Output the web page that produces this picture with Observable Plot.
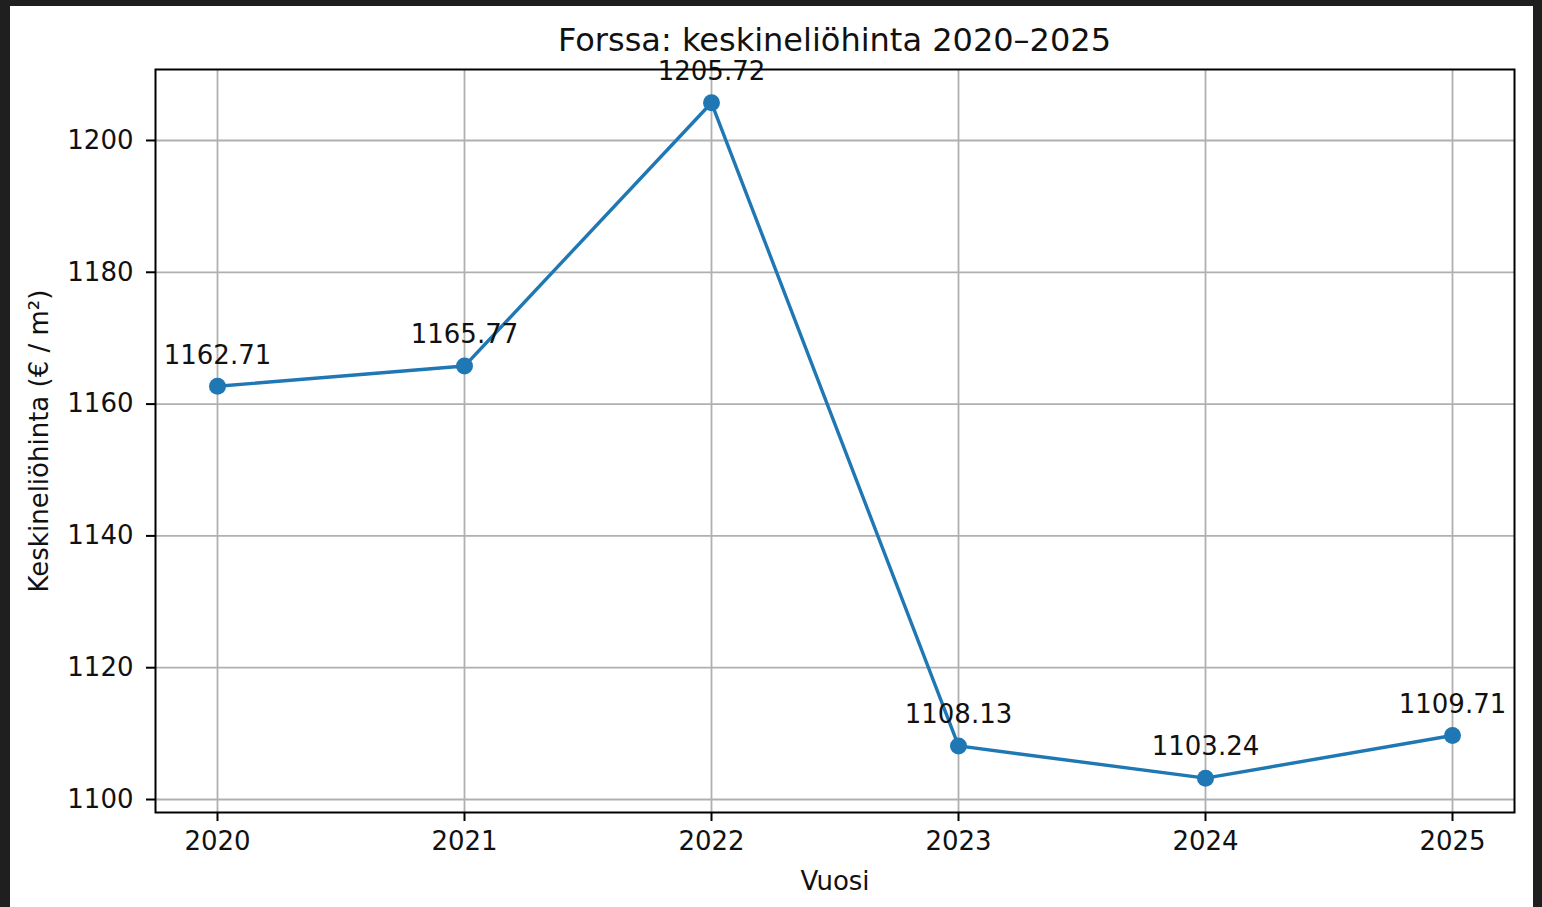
<!DOCTYPE html>
<html>
<head>
<meta charset="utf-8">
<script src="https://cdn.jsdelivr.net/npm/d3@7"></script>
<script src="https://cdn.jsdelivr.net/npm/@observablehq/plot@0.6"></script>
<style>
  html, body { margin: 0; padding: 0; background: #1f1f1f; width: 1542px; height: 907px; overflow: hidden; }
  #wrap { position: absolute; left: 10px; top: 6px; width: 1523px; height: 901px; background: #fff; font-family: "DejaVu Sans", sans-serif; }
  #title { position: absolute; left: 145px; width: 1359px; top: 15px; text-align: center; font-size: 32px; color: #111; line-height: 38px; }
  #chart { position: absolute; left: 0; top: 0; }
</style>
</head>
<body>
<div id="wrap">
  <div id="chart"></div>
  <div id="title">Forssa: keskineliöhinta 2020–2025</div>
</div>
<script>
const years = [2020, 2021, 2022, 2023, 2024, 2025];
const prices = [1162.71, 1165.77, 1205.72, 1108.13, 1103.24, 1109.71];
const yTicks = [1100, 1120, 1140, 1160, 1180, 1200];
const xLabel = "Vuosi";
const yLabel = "Keskineliöhinta (€ / m²)";

const data = years.map((y, i) => ({year: y, price: prices[i]}));
const blue = "#1f77b4";
const fs = 26;

const chart = Plot.plot({
  width: 1523,
  height: 901,
  marginLeft: 145,
  marginRight: 19,
  marginTop: 63,
  marginBottom: 95,
  style: {fontFamily: "DejaVu Sans, sans-serif", background: "#fff", color: "#111"},
  x: {type: "linear", domain: [2019.749, 2025.251]},
  y: {domain: [1098.03, 1210.77]},
  marks: [
    Plot.gridX(years, {stroke: "#b0b0b0", strokeOpacity: 1, strokeWidth: 1.8}),
    Plot.gridY(yTicks, {stroke: "#b0b0b0", strokeOpacity: 1, strokeWidth: 1.8}),
    Plot.axisX(years, {tickSize: 9, tickPadding: 10, fontSize: fs, tickFormat: d => String(d),
      stroke: "#000", strokeWidth: 2, label: xLabel, labelAnchor: "center", labelArrow: "none", labelOffset: 77}),
    Plot.axisY(yTicks, {tickSize: 9, tickPadding: 13, fontSize: fs, tickFormat: d => String(d),
      stroke: "#000", strokeWidth: 2, label: yLabel, labelAnchor: "center", labelArrow: "none", labelOffset: 126}),
    Plot.line(data, {x: "year", y: "price", stroke: blue, strokeWidth: 3.4}),
    Plot.dot(data, {x: "year", y: "price", fill: blue, r: 8.5}),
    Plot.text(data, {x: "year", y: "price", text: d => d.price.toFixed(2), dy: -31, fontSize: fs, fill: "#111", textAnchor: "middle", lineAnchor: "middle"}),
    Plot.frame({stroke: "#000", strokeWidth: 2})
  ]
});
document.getElementById("chart").appendChild(chart);
</script>
</body>
</html>
